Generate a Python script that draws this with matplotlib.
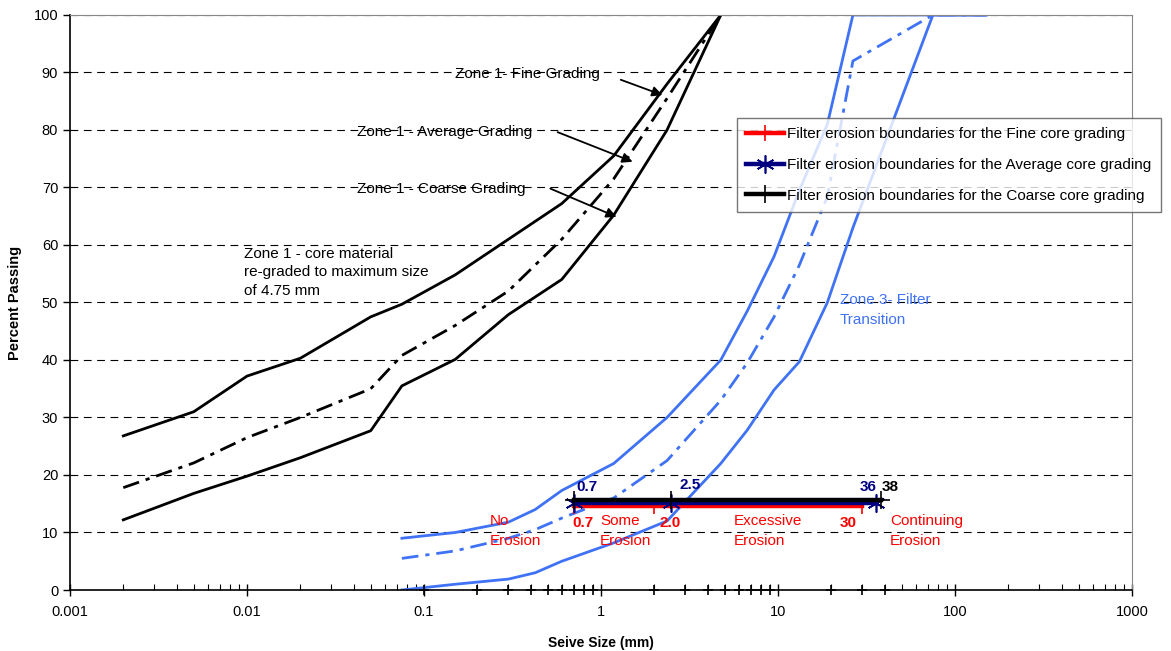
import numpy as np
import matplotlib
matplotlib.use("Agg")
import matplotlib.pyplot as plt
from matplotlib.ticker import FixedLocator, LogLocator, NullFormatter, FuncFormatter

plt.rcParams['font.family'] = ['Liberation Sans', 'DejaVu Sans']

# Zone 1 core material (black)
z1_size = [0.002, 0.005, 0.01, 0.02, 0.05, 0.075, 0.15, 0.3, 0.6, 1.18, 2.36, 4.75]
z1_fine = [26.8, 31.0, 37.2, 40.3, 47.5, 49.7, 54.8, 61.0, 67.2, 75.5, 88.0, 100]
z1_avg = [17.8, 22.1, 26.5, 30.0, 35.0, 40.8, 46.0, 52.0, 61.0, 71.5, 85.5, 100]
z1_coarse = [12.2, 16.8, 19.8, 23.0, 27.7, 35.5, 40.1, 47.9, 54.0, 65.2, 80.0, 100]

# Zone 3 filter transition (blue)
z3_size = [0.075, 0.15, 0.3, 0.425, 0.6, 1.18, 2.36, 4.75, 6.7, 9.5, 13.2, 19, 26.5, 75, 150]
z3_fine = [9.0, 10.0, 11.8, 14.0, 17.3, 22.0, 30.0, 40.0, 48.5, 58.0, 69.5, 81.0, 100, 100, 100]
z3_avg = [5.5, 6.8, 9.0, 10.5, 12.5, 16.0, 22.5, 33.0, 39.5, 47.5, 56.5, 68.4, 92.0, 100, 100]
z3_coarse = [0.0, 1.0, 1.9, 3.0, 5.0, 8.2, 12.0, 22.0, 27.8, 34.8, 39.7, 50.0, 63.0, 100, 100]

# Filter erosion boundaries
fine_bound = [0.7, 2.0, 30]
avg_bound = [0.7, 2.5, 36]
coarse_bound = [0.7, 2.5, 38]
fine_level, avg_level, coarse_level = 14.6, 15.2, 15.65

# sieve marks on the x axis
sieve_marks = [0.1, 0.2, 0.3, 0.4, 0.5, 0.6, 0.7, 0.8, 0.9,
               2, 3, 4, 5, 6, 7, 8, 9, 20, 30, 40]

blue = '#3f72f5'
navy = '#000080'

fig = plt.figure(figsize=(11.71, 6.51), dpi=100)
ax = fig.add_axes([0.0598, 0.0937, 0.9069, 0.8833])

dashdot = (0, (6, 2.5, 1.5, 2.5))
ax.plot(z1_size, z1_fine, color='black', lw=2)
ax.plot(z1_size, z1_avg, color='black', lw=2, linestyle=dashdot)
ax.plot(z1_size, z1_coarse, color='black', lw=2)

ax.plot(z3_size, z3_fine, color=blue, lw=2)
ax.plot(z3_size, z3_avg, color=blue, lw=2, linestyle=dashdot)
ax.plot(z3_size, z3_coarse, color=blue, lw=2)

ax.plot(fine_bound, [fine_level] * 3, color='red', lw=3.2, marker='|', ms=11, mew=1.2,
        label='Filter erosion boundaries for the Fine core grading', zorder=5)
ax.plot(avg_bound, [avg_level] * 3, color=navy, lw=3.2, marker=(6, 2, 0), ms=13, mew=1.2,
        label='Filter erosion boundaries for the Average core grading', zorder=6)
ax.plot(coarse_bound, [coarse_level] * 3, color='black', lw=3.2, marker='+', ms=13, mew=1.2,
        label='Filter erosion boundaries for the Coarse core grading', zorder=7)

ax.plot(sieve_marks, [0] * len(sieve_marks), linestyle='none', marker='+', ms=7,
        mew=1.2, color='black', clip_on=False, zorder=8)

ax.set_xscale('log')
ax.set_xlim(0.001, 1000)
ax.set_ylim(0, 100)
ax.set_yticks(np.arange(0, 101, 10))
ax.xaxis.set_major_locator(FixedLocator([0.001, 0.01, 0.1, 1, 10, 100, 1000]))
ax.xaxis.set_major_formatter(FuncFormatter(lambda v, p: '%g' % v))
ax.xaxis.set_minor_locator(LogLocator(base=10, subs=np.arange(2, 10)))
ax.xaxis.set_minor_formatter(NullFormatter())
ax.tick_params(axis='x', which='major', direction='inout', length=8, width=1, labelsize=10.5, pad=7)
ax.tick_params(axis='x', which='minor', direction='in', length=4, width=0.8)
ax.tick_params(axis='y', which='major', direction='out', length=5, width=1, labelsize=10.5)

ax.yaxis.grid(True, color='black', lw=0.8, linestyle=(0, (7, 5)))
ax.set_axisbelow(True)
for s in ['top', 'right']:
    ax.spines[s].set_color('#888888')
for s in ['left', 'bottom']:
    ax.spines[s].set_linewidth(1.2)

ax.set_xlabel('Seive Size (mm)', fontsize=10, fontweight='bold', labelpad=12)
ax.set_ylabel('Percent Passing', fontsize=10.5, fontweight='bold', labelpad=8)

arrow = dict(arrowstyle='-|>', color='black', lw=1.3, mutation_scale=15)
ax.text(0.15, 89.7, 'Zone 1- Fine Grading', fontsize=11, va='center')
ax.annotate('', xy=(2.3, 85.9), xytext=(1.25, 88.9), arrowprops=arrow)
ax.text(0.0418, 79.7, 'Zone 1 - Average Grading', fontsize=11, va='center')
ax.annotate('', xy=(1.56, 74.3), xytext=(0.55, 79.8), arrowprops=arrow)
ax.text(0.0418, 69.7, 'Zone 1 - Coarse Grading', fontsize=11, va='center')
ax.annotate('', xy=(1.265, 64.7), xytext=(0.50, 70), arrowprops=arrow)
ax.text(0.0096, 59.7, 'Zone 1 - core material\nre-graded to maximum size\nof 4.75 mm',
        fontsize=11, va='top', linespacing=1.4)
ax.text(22.4, 51.6, 'Zone 3- Filter\nTransition', fontsize=11, va='top', color=blue,
        linespacing=1.5)

bold_nums = [(0.73, 17.9, '0.7', navy), (2.79, 18.3, '2.5', navy), (29, 17.9, '36', navy),
             (38.7, 17.9, '38', 'black'), (0.686, 11.6, '0.7', 'red'),
             (2.15, 11.6, '2.0', 'red'), (22.4, 11.6, '30', 'red')]
for x, y, t, c in bold_nums:
    ax.text(x, y, t, fontsize=11, fontweight='bold', color=c, va='center')

red_labels = [(0.236, 'No\nErosion'), (0.986, 'Some\nErosion'),
              (5.64, 'Excessive\nErosion'), (43, 'Continuing\nErosion')]
for x, t in red_labels:
    ax.text(x, 13.2, t, fontsize=11, color='red', va='top', linespacing=1.5)

leg = fig.legend(loc='upper left', bbox_to_anchor=(737 / 1171, 1 - 118 / 651),
                 fontsize=11, frameon=True, fancybox=False, handlelength=2.5,
                 handletextpad=0.2, labelspacing=1.1, borderpad=0.6,
                 borderaxespad=0)
leg.get_frame().set_edgecolor('#555555')
leg.get_frame().set_linewidth(1.0)

fig.savefig('out.png', dpi=100)
